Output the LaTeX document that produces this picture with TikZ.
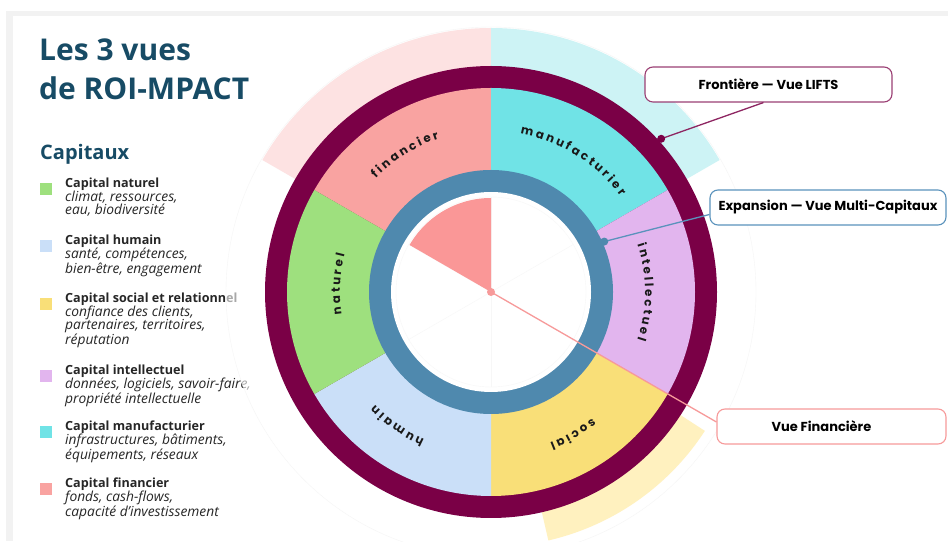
\documentclass[tikz,border=0pt]{standalone}
\usepackage{fontspec}
\setmainfont{Open Sans}
\newfontfamily\popfont{Poppins}
\usepackage{tikz}

\definecolor{wine}{HTML}{7A0046}
\definecolor{ringblue}{HTML}{4F89AE}
\definecolor{titleblue}{HTML}{174B65}
\definecolor{capnat}{HTML}{9EE07E}
\definecolor{caphum}{HTML}{CADFF8}
\definecolor{capsoc}{HTML}{F9DF78}
\definecolor{capint}{HTML}{E2B5EE}
\definecolor{capman}{HTML}{70E3E6}
\definecolor{capfin}{HTML}{F9A3A1}
\definecolor{wedgered}{HTML}{FA9797}
\definecolor{halopink}{HTML}{FDE2E2}
\definecolor{halocyan}{HTML}{CDF3F5}
\definecolor{haloyellow}{HTML}{FFF1BF}
\definecolor{lineblue}{HTML}{5A92BC}
\definecolor{linepink}{HTML}{F79A9A}

\newcommand\wheelfnt{\popfont\bfseries\fontsize{11.8}{13}\selectfont}
\def\lsp{2.6}

\tikzstyle{capsq}=[minimum size=12pt,inner sep=0pt]
\tikzstyle{captext}=[anchor=north west,align=left,inner sep=0pt,text=black!85,font=\fontsize{13.8}{13.6}\selectfont\itshape]
\tikzstyle{wheeltxt}=[anchor=base,inner sep=0pt,text=black!90,font=\wheelfnt]
\tikzstyle{vuebox}=[draw,fill=white,rounded corners=8pt,line width=1.1pt,minimum height=35pt,inner sep=0pt,font=\popfont\bfseries\fontsize{13}{15}\selectfont]

% one legend entry: name, y of square, colour, title, lines
\newcommand\capitem[5]{%
  \node[capsq,fill=#3] (sq-#1) at (46,#2) {};
  \node[captext] (txt-#1) at (65,#2+11) {{\upshape\bfseries\fontsize{12.6}{13.6}\selectfont #4}\\#5};}

% letter-spaced word on a clockwise arc: name, mid angle, radius, letters
\newcommand\arcword[4]{%
  \begingroup\wheelfnt
  \xdef\wtot{0}%
  \foreach \ch in {#4}{\pgfmathsetmacro\wnew{\wtot+width("\ch")+\lsp}\xdef\wtot{\wnew}}%
  \pgfmathsetmacro\astart{#2+(\wtot-\lsp)/2/#3*180/pi}%
  \xdef\wpos{0}%
  \foreach \ch [count=\i] in {#4}{%
    \pgfmathsetmacro\wch{width("\ch")}%
    \pgfmathsetmacro\ang{\astart-(\wpos+\wch/2)/#3*180/pi}%
    \node[wheeltxt,rotate=\ang-90] (#1-\i) at (\ang:#3) {\ch};
    \pgfmathsetmacro\wnew{\wpos+\wch+\lsp}\xdef\wpos{\wnew}}%
  \endgroup}

\begin{document}
\begin{tikzpicture}[x=1pt,y=1pt]
    \useasboundingbox (0,0) rectangle (948,541);
    \fill[white] (0,0) rectangle (948,541);
    % card
    \fill[gray!10] (6,0) rectangle (948,530);
    \fill[white] (13,0) rectangle (948,525);

    \node[anchor=base west,inner sep=0pt,text=titleblue,font=\bfseries\fontsize{30}{36}\selectfont] (title1) at (39,480) {Les 3 vues};
    \node[anchor=base west,inner sep=0pt,text=titleblue,font=\bfseries\fontsize{30}{36}\selectfont] (title2) at (39,441) {de ROI-MPACT};
    \node[anchor=base west,inner sep=0pt,text=titleblue,font=\bfseries\fontsize{20}{24}\selectfont] (captitle) at (40,381) {Capitaux};

    \capitem{nat}{352}{capnat}{Capital naturel}{climat, ressources,\\eau, biodiversité}
    \capitem{hum}{295}{caphum}{Capital humain}{santé, compétences,\\bien-être, engagement}
    \capitem{soc}{237}{capsoc}{Capital social et relationnel}{confiance des clients,\\partenaires, territoires,\\réputation}
    \capitem{int}{165}{capint}{Capital intellectuel}{données, logiciels, savoir-faire,\\propriété intellectuelle}
    \capitem{man}{109}{capman}{Capital manufacturier}{infrastructures, bâtiments,\\équipements, réseaux}
    \capitem{fin}{52}{capfin}{Capital financier}{fonds, cash-flows,\\capacité d’investissement}

    % wheel
    \begin{scope}[shift={(491,249)}]
      \fill[white,opacity=.6] (0,0) circle[radius=265];
      \draw[gray!8] (0,0) circle[radius=265];
      \fill[halopink] (0,0) -- (90:264) arc[start angle=90,end angle=150,radius=264] -- cycle;
      \fill[halocyan] (0,0) -- (30:264) arc[start angle=30,end angle=90,radius=264] -- cycle;
      \fill[haloyellow] (0,0) -- (283:255) arc[start angle=283,end angle=327,radius=255] -- cycle;
      \fill[wine] (0,0) circle[radius=226];
      \foreach \a/\col in {90/capfin,30/capman,-30/capint,-90/capsoc,-150/caphum,150/capnat}
        \fill[\col] (0,0) -- (\a:204) arc[start angle=\a,end angle=\a+60,radius=204] -- cycle;
      \fill[ringblue] (0,0) circle[radius=122];
      \fill[white] (0,0) circle[radius=100];
      \draw[gray!6] (0,0) circle[radius=95];
      \foreach \a in {30,90,...,330}
        \draw[gray!6] (0,0) -- (\a:95);
      \fill[wedgered] (0,0) -- (90:94) arc[start angle=90,end angle=150,radius=94] -- cycle;

      \arcword{fin}{122}{162}{f,i,n,a,n,c,i,e,r}
      \arcword{man}{58}{161}{m,a,n,u,f,a,c,t,u,r,i,e,r}
      \arcword{int}{0}{154}{i,n,t,e,l,l,e,c,t,u,e,l}
      \arcword{soc}{300}{162}{s,o,c,i,a,l}
      \arcword{hum}{235}{162}{h,u,m,a,i,n}
      \arcword{nat}{177}{151}{n,a,t,u,r,e,l}

      \coordinate (dfr) at (42:229);
      \coordinate (dex) at (24:124);
      \coordinate (dfi) at (0,0);
    \end{scope}

    % the three views
    \node[vuebox,draw=wine!75,minimum width=247pt] (fr) at (768.5,456.5) {Frontière — Vue LIFTS};
    \node[vuebox,draw=lineblue,minimum width=236pt] (ex) at (828,333.5) {Expansion — Vue Multi-Capitaux};
    \node[vuebox,draw=linepink,minimum width=229pt] (fi) at (831.5,114.5) {Vue Financière\kern20pt};

    \draw[wine!85,line width=1.3pt] ([xshift=-5pt]fr.south) -- (dfr);
    \draw[lineblue,line width=1.3pt] ([yshift=-7pt]ex.west) -- (dex);
    \draw[linepink,line width=1.3pt] ([yshift=4.5pt]fi.west) -- (dfi);
    \fill[wine] (dfr) circle[radius=4];
    \fill[ringblue] (dex) circle[radius=4];
    \fill[linepink] (dfi) circle[radius=4];
\end{tikzpicture}
\end{document}
